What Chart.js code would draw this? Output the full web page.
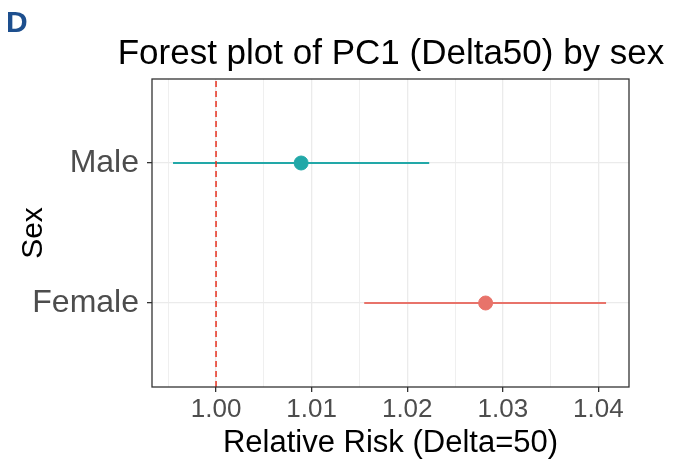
<!DOCTYPE html>
<html lang="en">
  <head>
    <meta charset="UTF-8" />
    <title>Forest plot of PC1 (Delta50) by sex</title>
    <style>
      html, body { margin: 0; padding: 0; background: #fff; }
      .wrap { position: relative; width: 679px; height: 462px; }
      .panel { position: absolute; left: 6px; top: 7px; font: bold 30px/30px "Liberation Sans", Arial, sans-serif; color: #1d4f8e; }
      .title { position: absolute; left: 191px; width: 400px; top: 34px; text-align: center; white-space: nowrap;
               display: flex; justify-content: center; font: 35px/35px "Liberation Sans", Arial, sans-serif; color: #000; }
    </style>
  </head>
  <body>
    <div class="wrap">
      <canvas id="forest" width="679" height="462"></canvas>
      <div class="panel">D</div>
      <div class="title">Forest plot of PC1 (Delta50) by sex</div>
    </div>

    <script src="https://cdn.jsdelivr.net/npm/chart.js@4.4.1/dist/chart.umd.min.js"></script>
    <script>
      // data
      const sexes = ["Female", "Male"];
      const sexPos = [1, 2];
      const estimates = [1.0282, 1.0089];
      const lower = [1.0155, 0.9955];
      const upper = [1.0408, 1.0223];
      const colors = ["#e8736a", "#22a8a8"];
      const xMajor = [1.00, 1.01, 1.02, 1.03, 1.04];
      const xMinor = [0.995, 1.005, 1.015, 1.025, 1.035];
      const refValue = 1.0;

      const font = "'Liberation Sans', Arial, sans-serif";
      const xMin = 0.9933, xMax = 1.0432, yMin = 0.4, yMax = 2.6;

      const isMajor = v => xMajor.some(m => Math.abs(m - v) < 1e-9);

      const datasets = [];
      // dashed reference line at RR = 1
      datasets.push({
        data: [{ x: refValue, y: yMin }, { x: refValue, y: yMax }],
        showLine: true,
        borderColor: "#e8321f",
        borderWidth: 1.5,
        borderDash: [6, 4],
        pointRadius: 0
      });
      // confidence intervals
      sexes.forEach((s, i) => {
        datasets.push({
          data: [{ x: lower[i], y: sexPos[i] }, { x: upper[i], y: sexPos[i] }],
          showLine: true,
          borderColor: colors[i],
          borderWidth: 2,
          pointRadius: 0
        });
      });
      // point estimates
      datasets.push({
        data: sexes.map((s, i) => ({ x: estimates[i], y: sexPos[i] })),
        backgroundColor: colors,
        borderColor: colors,
        pointRadius: 7,
        pointHoverRadius: 7
      });

      const frame = {
        id: "frame",
        afterDatasetsDraw(chart) {
          const { ctx, chartArea: a } = chart;
          ctx.save();
          ctx.strokeStyle = "#333333";
          ctx.lineWidth = 1.3;
          ctx.strokeRect(a.left, a.top, a.right - a.left, a.bottom - a.top);
          ctx.restore();
        }
      };

      new Chart(document.getElementById("forest"), {
        type: "scatter",
        data: { datasets },
        plugins: [frame],
        options: {
          responsive: false,
          animation: false,
          devicePixelRatio: 1,
          layout: { padding: { top: 79, right: 50, bottom: 0, left: 0 } },
          plugins: {
            legend: { display: false },
            tooltip: { enabled: false },
            title: { display: false }
          },
          scales: {
            x: {
              type: "linear",
              min: xMin,
              max: xMax,
              afterBuildTicks: scale => {
                scale.ticks = xMajor.concat(xMinor).sort((a, b) => a - b).map(v => ({ value: v }));
              },
              afterFit: scale => { scale.height = 75; },
              ticks: {
                autoSkip: false,
                maxRotation: 0,
                padding: 2,
                color: "#4d4d4d",
                font: { family: font, size: 26 },
                callback: v => (isMajor(v) ? v.toFixed(2) : "")
              },
              grid: {
                color: "#ebebeb",
                lineWidth: ctx => (ctx.tick && isMajor(ctx.tick.value) ? 1.3 : 0.8),
                tickColor: ctx => (ctx.tick && isMajor(ctx.tick.value) ? "#333333" : "rgba(0,0,0,0)"),
                tickLength: 5,
                tickWidth: 1.3
              },
              border: { display: false },
              title: {
                display: true,
                text: "Relative Risk (Delta=50)",
                color: "#000",
                font: { family: font, size: 31, lineHeight: 1.2 },
                padding: { top: 0, bottom: 0 }
              }
            },
            y: {
              type: "linear",
              min: yMin,
              max: yMax,
              afterBuildTicks: scale => {
                scale.ticks = sexPos.map(v => ({ value: v }));
              },
              afterFit: scale => { scale.width = 152; },
              ticks: {
                autoSkip: false,
                padding: 8,
                color: "#4d4d4d",
                font: { family: font, size: 32 },
                callback: v => sexes[sexPos.indexOf(v)] || ""
              },
              grid: {
                color: "#ebebeb",
                lineWidth: 1.3,
                tickColor: "#333333",
                tickLength: 5,
                tickWidth: 1.3
              },
              border: { display: false },
              title: {
                display: true,
                text: "Sex",
                color: "#000",
                font: { family: font, size: 30, lineHeight: 1.2 },
                padding: { top: 16, bottom: 0 }
              }
            }
          }
        }
      });
    </script>
  </body>
</html>
